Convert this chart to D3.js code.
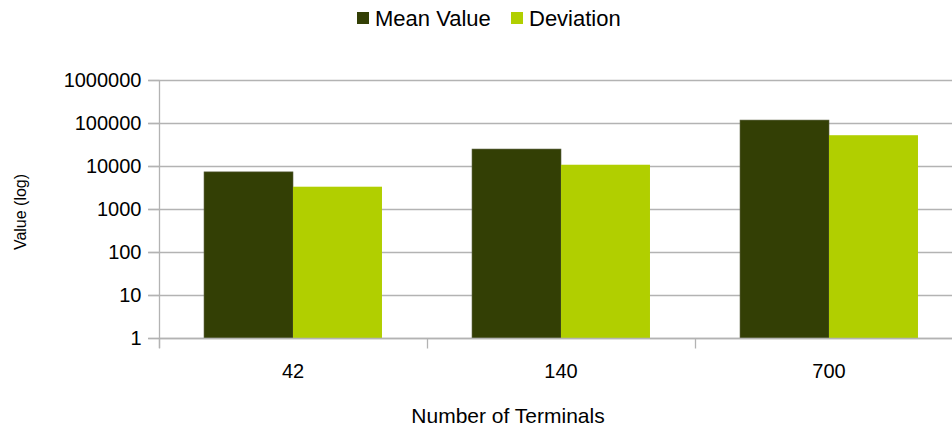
<!DOCTYPE html>
<html>
<head>
<meta charset="utf-8">
<script src="https://cdn.jsdelivr.net/npm/d3@7"></script>
<style>
  html, body { margin: 0; padding: 0; background: #fff; }
  svg { display: block; font-family: "Liberation Sans", Arial, sans-serif; }
</style>
</head>
<body>
<svg id="chart" width="952" height="428"></svg>
<script>
// Terminal counts on the x axis
const categories = ["42", "140", "700"];
const seriesNames = ["Mean Value", "Deviation"];
// Measured values per terminal count
const meanValues = [7300, 24800, 117000];
const deviationValues = [3300, 10700, 52000];
const yTickValues = [1, 10, 100, 1000, 10000, 100000, 1000000];
const colors = ["#333f05", "#b1cf00"];

const svg = d3.select("#chart");
const margin = { left: 159, right: -11, top: 80, bottom: 90 };
const W = 952, H = 428;
const plotRight = W - margin.right;
const plotBottom = H - margin.bottom;

const x = d3.scaleBand()
  .domain(categories)
  .range([margin.left, plotRight])
  .paddingInner(0.336)
  .paddingOuter(0.168);

const xInner = d3.scaleBand()
  .domain(seriesNames)
  .range([0, x.bandwidth()]);

const y = d3.scaleLog()
  .domain([1, 1000000])
  .range([plotBottom, margin.top]);

// Horizontal gridlines
svg.append("g")
  .selectAll("line")
  .data(yTickValues)
  .join("line")
  .attr("x1", margin.left - 11)
  .attr("x2", W)
  .attr("y1", d => Math.round(y(d)) + 0.5)
  .attr("y2", d => Math.round(y(d)) + 0.5)
  .attr("stroke", "#b3b3b3")
  .attr("stroke-width", 1.3);

// Bars
const rows = categories.map((c, i) => ({
  cat: c,
  vals: [meanValues[i], deviationValues[i]]
}));
const groups = svg.append("g")
  .selectAll("g")
  .data(rows)
  .join("g")
  .attr("transform", d => `translate(${x(d.cat)},0)`);
groups.selectAll("rect")
  .data(d => d.vals.map((v, j) => ({ v, s: seriesNames[j], j })))
  .join("rect")
  .attr("x", d => xInner(d.s))
  .attr("y", d => y(d.v))
  .attr("width", xInner.bandwidth())
  .attr("height", d => plotBottom - y(d.v))
  .attr("fill", d => colors[d.j])
  .attr("stroke", d => d.j === 0 ? "#5a6040" : "none")
  .attr("stroke-width", 0.6);

// Y axis
const yAxis = d3.axisLeft(y)
  .tickValues(yTickValues)
  .tickFormat(d3.format("d"))
  .tickSize(11)
  .tickPadding(7);
const gy = svg.append("g")
  .attr("transform", `translate(${margin.left + 0.5},0)`)
  .call(yAxis);
gy.select(".domain").remove();
gy.append("line")
  .attr("x1", 0).attr("x2", 0)
  .attr("y1", margin.top).attr("y2", plotBottom + 10)
  .attr("stroke", "#b3b3b3").attr("stroke-width", 1.3);
gy.selectAll(".tick line").attr("stroke", "#b3b3b3").attr("stroke-width", 1.3);
gy.selectAll(".tick text")
  .attr("font-size", 20)
  .attr("fill", "#000")
  .attr("font-family", "Liberation Sans, Arial, sans-serif");

// X axis
const gx = svg.append("g")
  .attr("transform", `translate(0,${Math.round(plotBottom) + 0.5})`);
gx.append("line")
  .attr("x1", margin.left).attr("x2", W)
  .attr("stroke", "#b3b3b3").attr("stroke-width", 1.3);
gx.selectAll(".xt")
  .data(categories)
  .join("line")
  .attr("class", "xt")
  .attr("x1", d => Math.round(x(d) - x.step() * x.paddingInner() / 2) + 0.5)
  .attr("x2", d => Math.round(x(d) - x.step() * x.paddingInner() / 2) + 0.5)
  .attr("y1", 0).attr("y2", 10)
  .attr("stroke", "#b3b3b3").attr("stroke-width", 1.3);
gx.selectAll(".xl")
  .data(categories)
  .join("text")
  .attr("class", "xl")
  .attr("x", d => x(d) + x.bandwidth() / 2)
  .attr("y", 39)
  .attr("text-anchor", "middle")
  .attr("font-size", 20)
  .text(d => d);

// Axis titles
svg.append("text")
  .attr("x", 508)
  .attr("y", 423)
  .attr("text-anchor", "middle")
  .attr("font-size", 21)
  .text("Number of Terminals");

svg.append("text")
  .attr("transform", "translate(26,212) rotate(-90)")
  .attr("text-anchor", "middle")
  .attr("font-size", 16)
  .text("Value (log)");

// Legend
const legendItems = [
  { name: seriesNames[0], color: colors[0], sx: 357, tx: 375 },
  { name: seriesNames[1], color: colors[1], sx: 511, tx: 529 }
];
const lg = svg.append("g");
lg.selectAll("rect")
  .data(legendItems)
  .join("rect")
  .attr("x", d => d.sx)
  .attr("y", 12)
  .attr("width", 12)
  .attr("height", 12)
  .attr("fill", d => d.color);
lg.selectAll("text")
  .data(legendItems)
  .join("text")
  .attr("x", d => d.tx)
  .attr("y", 26)
  .attr("font-size", 22)
  .text(d => d.name);
</script>
</body>
</html>
